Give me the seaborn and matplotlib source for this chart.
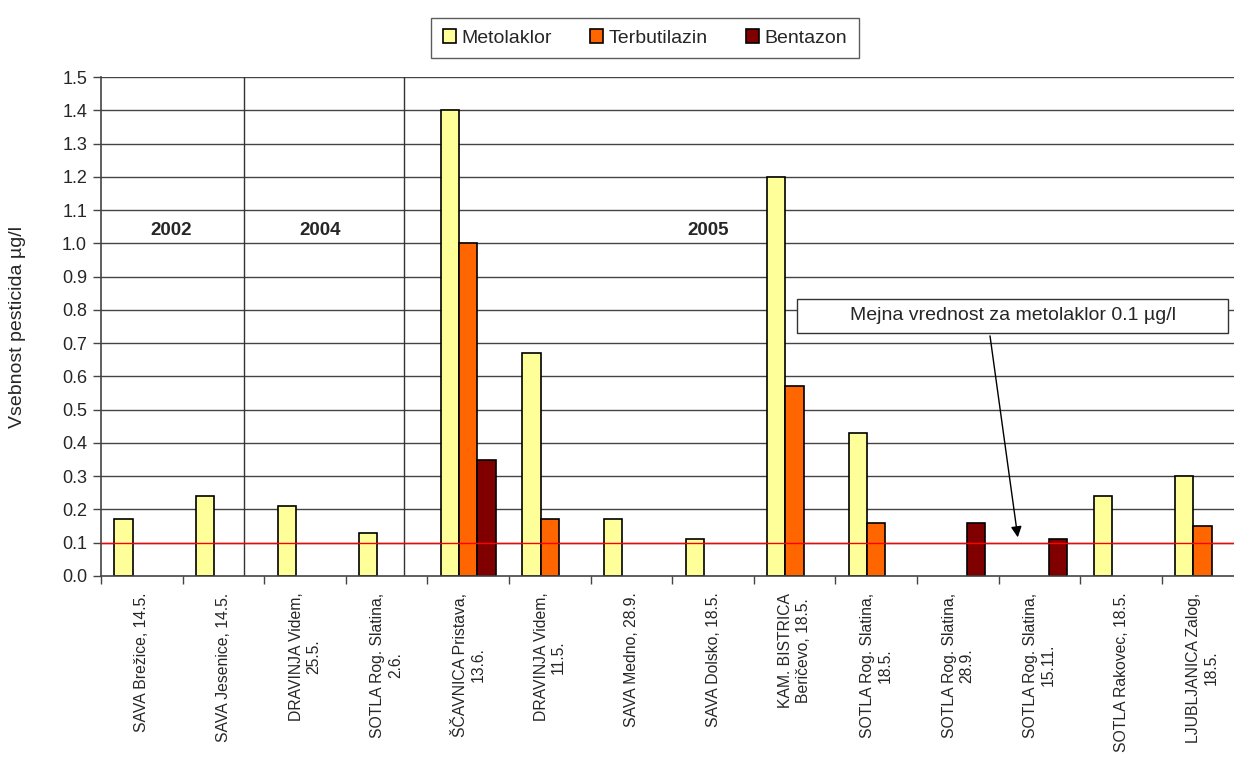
import numpy as np
import pandas as pd
import matplotlib
matplotlib.use("Agg")
import matplotlib.pyplot as plt
import seaborn as sns
from matplotlib.patches import Rectangle

sns.set_style("white")
plt.rcParams['font.family'] = ['Liberation Sans', 'DejaVu Sans']

# sampling sites (x categories)
sites = [
    "SAVA Brežice, 14.5.",
    "SAVA Jesenice, 14.5.",
    "DRAVINJA Videm,\n25.5.",
    "SOTLA Rog. Slatina,\n2.6.",
    "ŠČAVNICA Pristava,\n13.6.",
    "DRAVINJA Videm,\n11.5.",
    "SAVA Medno, 28.9.",
    "SAVA Dolsko, 18.5.",
    "KAM. BISTRICA\nBeričevo, 18.5.",
    "SOTLA Rog. Slatina,\n18.5.",
    "SOTLA Rog. Slatina,\n28.9.",
    "SOTLA Rog. Slatina,\n15.11.",
    "SOTLA Rakovec, 18.5.",
    "LJUBLJANICA Zalog,\n18.5.",
]
# concentrations in ug/l, nan = not detected
metolaklor = [0.17, 0.24, 0.21, 0.13, 1.40, 0.67, 0.17, 0.11, 1.20, 0.43, np.nan, np.nan, 0.24, 0.30]
terbutilazin = [np.nan, np.nan, np.nan, np.nan, 1.00, 0.17, np.nan, np.nan, 0.57, 0.16, np.nan, np.nan, np.nan, 0.15]
bentazon = [np.nan, np.nan, np.nan, np.nan, 0.35, np.nan, np.nan, np.nan, np.nan, np.nan, 0.16, 0.11, np.nan, np.nan]

pesticides = ["Metolaklor", "Terbutilazin", "Bentazon"]
colors = ["#FFFF99", "#FF6600", "#800000"]
years = ["2002", "2004", "2005"]

rows = []
for name, vals in zip(pesticides, [metolaklor, terbutilazin, bentazon]):
    for s, v in zip(sites, vals):
        if not np.isnan(v):
            rows.append({"site": s, "pesticide": name, "value": v})
df = pd.DataFrame(rows)

fig = plt.figure(figsize=(12.34, 7.58), dpi=100)
ax = fig.add_axes([101 / 1234, 1 - 576 / 758, 1142.4 / 1234, 499 / 758])

# grid lines behind bars
for yv in np.arange(0.1, 1.51, 0.1):
    ax.axhline(yv, color="#444444", lw=1.0, zorder=0)

sns.barplot(data=df, x="site", y="value", hue="pesticide", order=sites,
            hue_order=pesticides, palette=colors, width=0.67,
            edgecolor="black", linewidth=1.2, saturation=1, ax=ax, zorder=2)

# limit value line
ax.axhline(0.1, color="red", lw=1.0, zorder=3)

# year separators and labels
for xv in [1.25, 3.21]:
    ax.plot([xv, xv], [0, 1.5], color="#333333", lw=1.0, zorder=1)
for xv, yr in zip([0.36, 2.18, 6.94], years):
    ax.text(xv, 1.04, yr, ha="center", va="center", fontsize=13.5,
            fontweight="bold", zorder=4)

# annotation box
ax.add_patch(Rectangle((8.03, 0.730), 5.28, 0.103, facecolor="white",
                       edgecolor="#333333", lw=1.0, zorder=5))
ax.text(10.68, 0.783, "Mejna vrednost za metolaklor 0.1 µg/l", ha="center",
        va="center", fontsize=14, zorder=6)
ax.annotate("", xy=(10.74, 0.108), xytext=(10.39, 0.73),
            arrowprops=dict(arrowstyle="-|>", color="black", lw=1.0,
                            mutation_scale=16), zorder=6)

ax.set_xlim(-0.5, 13.5)
ax.set_ylim(0, 1.5)
ax.set_yticks(np.arange(0, 1.51, 0.1))
ax.set_yticklabels([f"{v:.1f}" for v in np.arange(0, 1.51, 0.1)], fontsize=13)
ax.set_xticks(range(len(sites)))
ax.set_xticklabels(sites, rotation=90, fontsize=11.3, ha="center",
                   va="top", multialignment="center")
ax.set_xticks(np.arange(-0.5, 13.0, 1.0), minor=True)
ax.tick_params(axis="x", which="major", length=0, pad=12)
ax.tick_params(axis="x", which="minor", length=6, width=1, color="#444444",
               direction="out", bottom=True)
ax.tick_params(axis="y", length=6, width=1, color="#444444", direction="out",
               left=True, pad=4)
ax.set_xlabel("")
ax.set_ylabel("Vsebnost pesticida µg/l", fontsize=14, labelpad=26)

for side in ["top", "right"]:
    ax.spines[side].set_visible(False)
for side in ["left", "bottom"]:
    ax.spines[side].set_color("#444444")
    ax.spines[side].set_linewidth(1.2)

ax.get_legend().remove()
handles = [Rectangle((0, 0), 1, 1, facecolor=c, edgecolor="black", lw=1.2)
           for c in colors]
leg = fig.legend(handles, pesticides, loc="center", ncol=3,
                 bbox_to_anchor=(645 / 1234, 1 - 38 / 758), fontsize=14,
                 frameon=True, fancybox=False, handlelength=0.67,
                 handleheight=0.67, handletextpad=0.3, columnspacing=1.95,
                 borderpad=0.6, borderaxespad=0)
leg.get_frame().set_edgecolor("#333333")
leg.get_frame().set_linewidth(1.0)

fig.savefig("out.png", dpi=100)
